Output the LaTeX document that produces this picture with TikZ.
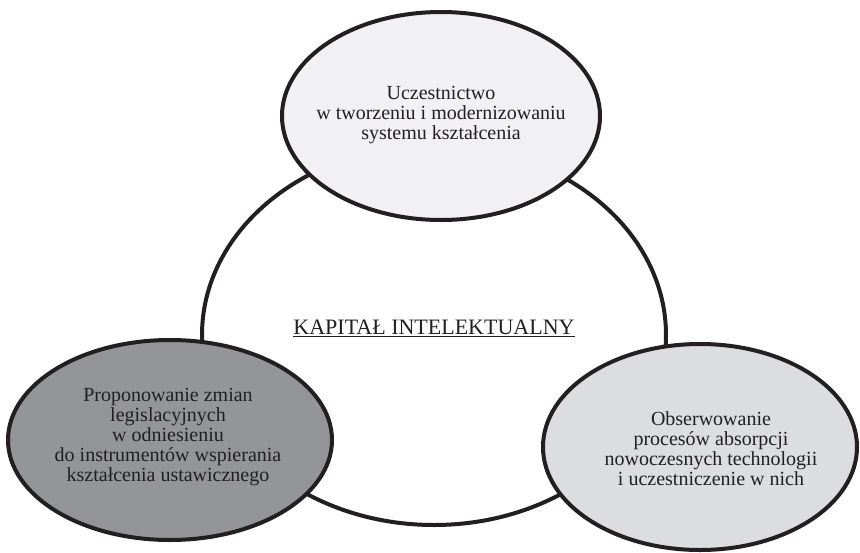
\documentclass[tikz,border=0pt]{standalone}
\usepackage{fontspec}
\setmainfont{Liberation Serif}
\usetikzlibrary{calc,positioning}

\definecolor{topfill}{HTML}{F1F1F3}
\definecolor{leftfill}{HTML}{939598}
\definecolor{rightfill}{HTML}{DCDDDE}
\definecolor{inkgray}{HTML}{231F20}

\tikzset{
  outline/.style={line width=4pt, draw=inkgray},
  label/.style={align=center, text=inkgray, font=\fontsize{20}{20}\selectfont}
}

\begin{document}
\begin{tikzpicture}[x=1pt, y=-1pt]

        \useasboundingbox (0,0) rectangle (860,552);

        %coordinates
        \coordinate (K) at (434,335); % kapital
        \coordinate (U) at (441,116); % uczestnictwo
        \coordinate (P) at (170,440); % proponowanie
        \coordinate (O) at (700,447); % obserwowanie

        %main ellipse
        \draw[outline, fill=white] (K) ellipse [x radius=232, y radius=190];
        \node[font=\fontsize{22}{22}\selectfont, text=inkgray] (kap) at ($(K)+(0,-7)$)
        {\underline{KAPITAŁ INTELEKTUALNY}};

        %side ellipses
        \draw[outline, fill=topfill] (U) ellipse [x radius=159, y radius=104];
        \draw[outline, fill=leftfill] (P) ellipse [x radius=162, y radius=100];
        \draw[outline, fill=rightfill] (O) ellipse [x radius=157, y radius=103];

        %texts
        \node[label] (ucz) at ($(U)+(0,-1)$)
        {Uczestnictwo \\ w tworzeniu i modernizowaniu \\ systemu kształcenia};
        \node[label] (pro) at ($(P)+(-2,-3)$)
        {Proponowanie zmian \\ legislacyjnych \\ w odniesieniu \\ do instrumentów wspierania \\ kształcenia ustawicznego};
        \node[label] (obs) at ($(O)+(11,2)$)
        {Obserwowanie \\ procesów absorpcji \\ nowoczesnych technologii \\ i uczestniczenie w nich};

\end{tikzpicture}
\end{document}
